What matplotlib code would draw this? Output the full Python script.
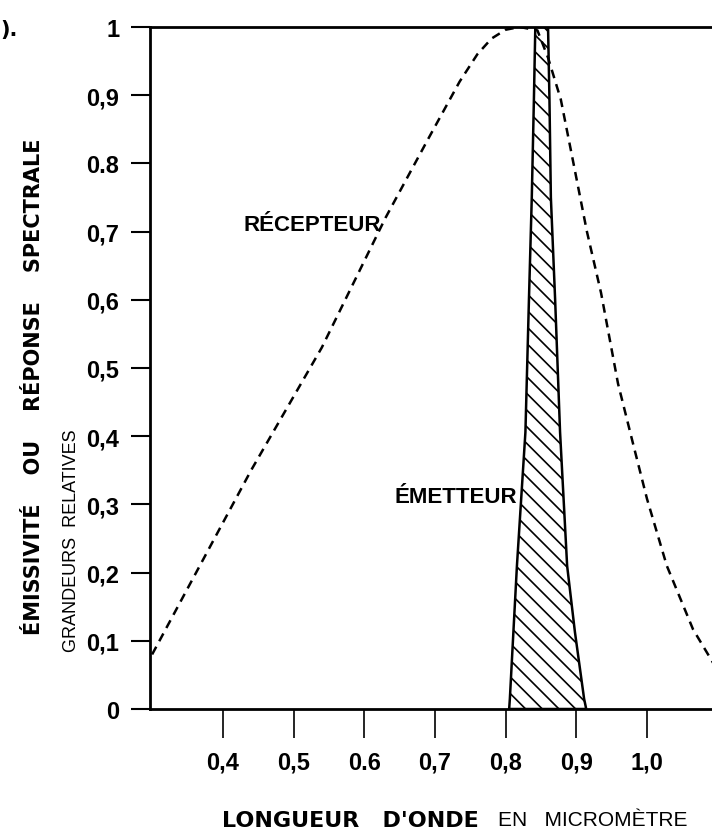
import matplotlib.pyplot as plt

# courbe du récepteur (pointillés)
recept_x = [0.30, 0.44, 0.54, 0.63, 0.69, 0.735, 0.76, 0.78, 0.80, 0.82, 0.845, 0.86, 0.878, 0.896, 0.915, 0.935, 0.959, 0.98, 1.0, 1.028, 1.065, 1.095]
recept_y = [0.08, 0.35, 0.53, 0.72, 0.835, 0.92, 0.96, 0.983, 0.996, 1.0, 0.995, 0.955, 0.894, 0.80, 0.70, 0.61, 0.477, 0.39, 0.308, 0.21, 0.117, 0.065]

# bande de l'émetteur (hachurée)
emit_y = [0.0, 0.015, 0.113, 0.21, 0.406, 0.601, 0.75, 0.894, 1.0]
emit_left = [0.805, 0.806, 0.811, 0.816, 0.828, 0.833, 0.837, 0.840, 0.842]
emit_right = [0.914, 0.911, 0.898, 0.887, 0.877, 0.870, 0.864, 0.862, 0.860]

x_ticks = [0.4, 0.5, 0.6, 0.7, 0.8, 0.9, 1.0]
x_labels = ['0,4', '0,5', '0.6', '0,7', '0,8', '0,9', '1,0']
y_ticks = [0, 0.1, 0.2, 0.3, 0.4, 0.5, 0.6, 0.7, 0.8, 0.9, 1]
y_labels = ['0', '0,1', '0,2', '0,3', '0,4', '0,5', '0,6', '0,7', '0.8', '0,9', '1']

narrow = ['Liberation Sans', 'DejaVu Sans']
plt.rcParams['hatch.linewidth'] = 1.2

fig = plt.figure(figsize=(7.12, 8.37), dpi=100)
ax = fig.add_axes([150 / 712, 1 - 710 / 837, 1 - 150 / 712, 682 / 837])

ax.plot(recept_x, recept_y, color='black', lw=1.8, dashes=(3.5, 2.5))
ax.fill_betweenx(emit_y, emit_left, emit_right, facecolor='white',
                 edgecolor='black', hatch='\\\\', lw=1.8)

ax.set_xlim(0.297, 0.297 + 562 / 707)
ax.set_ylim(0, 1)
ax.spines['right'].set_visible(False)
for s in ['left', 'bottom', 'top']:
    ax.spines[s].set_linewidth(2)

ax.set_xticks(x_ticks)
ax.set_xticklabels(x_labels, family=narrow, weight='bold', fontsize=17)
ax.set_yticks(y_ticks)
ax.set_yticklabels(y_labels, family=narrow, weight='bold', fontsize=17)
ax.tick_params(axis='x', direction='out', length=21, width=1.2, pad=9)
ax.tick_params(axis='y', direction='out', length=14, width=1.5, pad=8)

ax.text(0.526, 0.711, 'RÉCEPTEUR', family=narrow, weight='bold', fontsize=16,
        ha='center', va='center')
ax.text(0.730, 0.311, 'ÉMETTEUR', family=narrow, weight='bold', fontsize=16,
        ha='center', va='center')

# titres des axes
fig.text(34 / 712, 1 - 387 / 837, 'ÉMISSIVITÉ    OU    RÉPONSE    SPECTRALE',
         rotation=90, ha='center', va='center', weight='bold', fontsize=15)
fig.text(71 / 712, 1 - 541 / 837, 'GRANDEURS  RELATIVES', family=narrow,
         rotation=90, ha='center', va='center', fontsize=13)
fig.text(222 / 712, 1 - 821 / 837, "LONGUEUR   D'ONDE", ha='left', va='center',
         weight='bold', fontsize=16)
fig.text(498 / 712, 1 - 821 / 837, 'EN   MICROMÈTRE', family=narrow, ha='left',
         va='center', fontsize=15)
fig.text(0, 1 - 30 / 837, ').', ha='left', va='center', weight='bold', fontsize=15)

fig.savefig('out.png', dpi=100)
